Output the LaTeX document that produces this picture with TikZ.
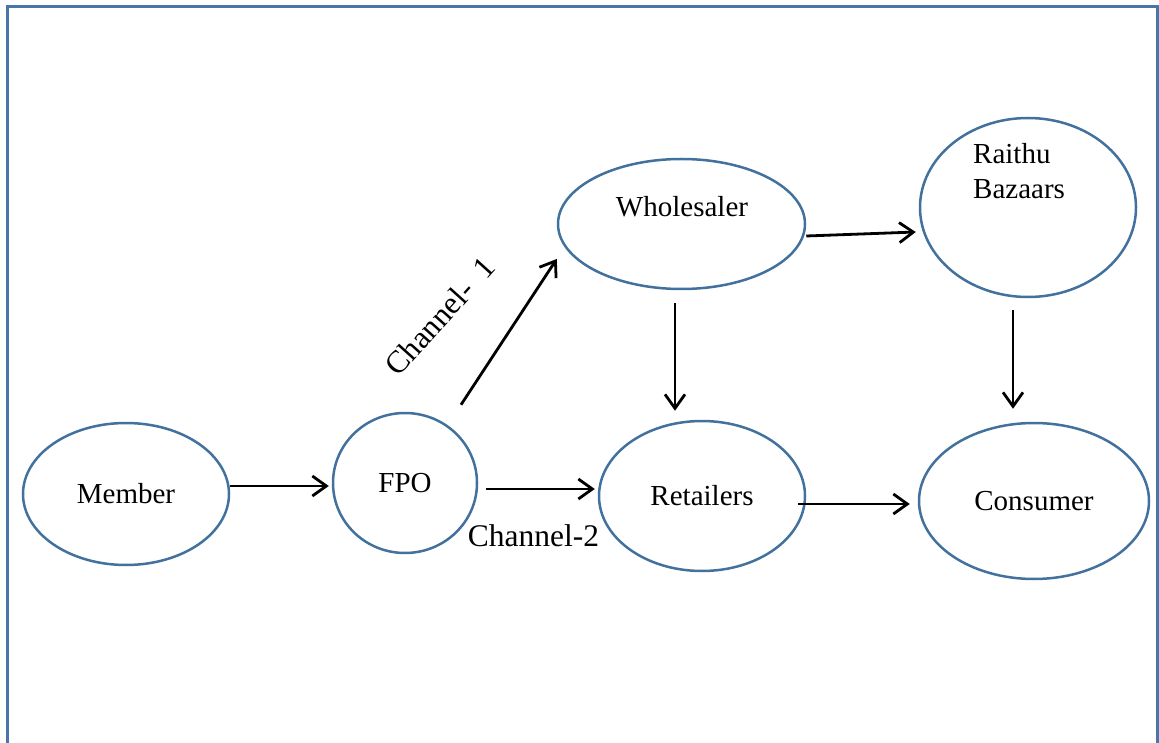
\documentclass[tikz,border=0pt]{standalone}
\usepackage{fontspec}
\setmainfont{Liberation Serif}
\usepackage{tikz}
\usetikzlibrary{shapes}
\usetikzlibrary{arrows.meta}
\usetikzlibrary{positioning}

\definecolor{framecol}{RGB}{72,118,170}
\definecolor{edgecol}{RGB}{65,113,156}

\begin{document}
\begin{tikzpicture}[x=1pt,y=1pt,
  stage/.style={ellipse,draw=edgecol,line width=2.5pt,inner sep=0pt,font=\fontsize{29}{35}\selectfont},
  flow/.style={line width=2.8pt,-{Straight Barb[length=14pt,width=20pt]}},
  chan/.style={font=\fontsize{31.5}{37}\selectfont,inner sep=0pt}]
\useasboundingbox (0,0) rectangle (1159,-743);

% page frame, open at the bottom
\draw[framecol,line width=3pt] (7,-743) -- (7,-6.5) -- (1157.5,-6.5) -- (1157.5,-743);

% stages of the chain
\node[stage,minimum width=206,minimum height=142] (member) at (126,-494) {Member};
\node[stage,minimum width=144,minimum height=140] (fpo) at (405,-483) {FPO};
\node[stage,minimum width=247,minimum height=130] (wholesaler) at (681.5,-224) {};
\node[stage,minimum width=216,minimum height=179] (raithu) at (1028,-207.5) {};
\node[stage,minimum width=206,minimum height=150] (retailers) at (702,-496) {Retailers};
\node[stage,minimum width=230,minimum height=156] (consumer) at (1034,-501) {Consumer};

\node[font=\fontsize{29}{35}\selectfont,inner sep=0pt] (wholesalerText) at (682,-207) {Wholesaler};
\node[font=\fontsize{29}{35}\selectfont,inner sep=0pt,anchor=north west,align=left] (raithuText) at (973,-143) {Raithu\\Bazaars};

% flows
\draw[flow] ([yshift=8]member.east) -- ([shift={(-3,-3)}]fpo.west);
\draw[flow] ([shift={(8,-6)}]fpo.east) -- ([shift={(-3,7)}]retailers.west);
\draw[flow] ([shift={(56,7)}]fpo.north) -- ([yshift=-35]wholesaler.west);
\draw[flow] ([yshift=-12]wholesaler.east) -- ([shift={(-3,-24.5)}]raithu.west);
\draw[flow] ([shift={(-6.5,-13)}]wholesaler.south) -- ([shift={(-27,9)}]retailers.north);
\draw[flow] ([shift={(-15,-12)}]raithu.south) -- ([shift={(-21,13)}]consumer.north);
\draw[flow] ([shift={(-8,-8)}]retailers.east) -- ([shift={(-8,-3)}]consumer.west);

% channel labels
\node[chan,rotate=48] (chOne) at (440,-316) {Channel-\ \ 1};
\node[chan] (chTwo) at (533.5,-536) {Channel-2};

\end{tikzpicture}
\end{document}
